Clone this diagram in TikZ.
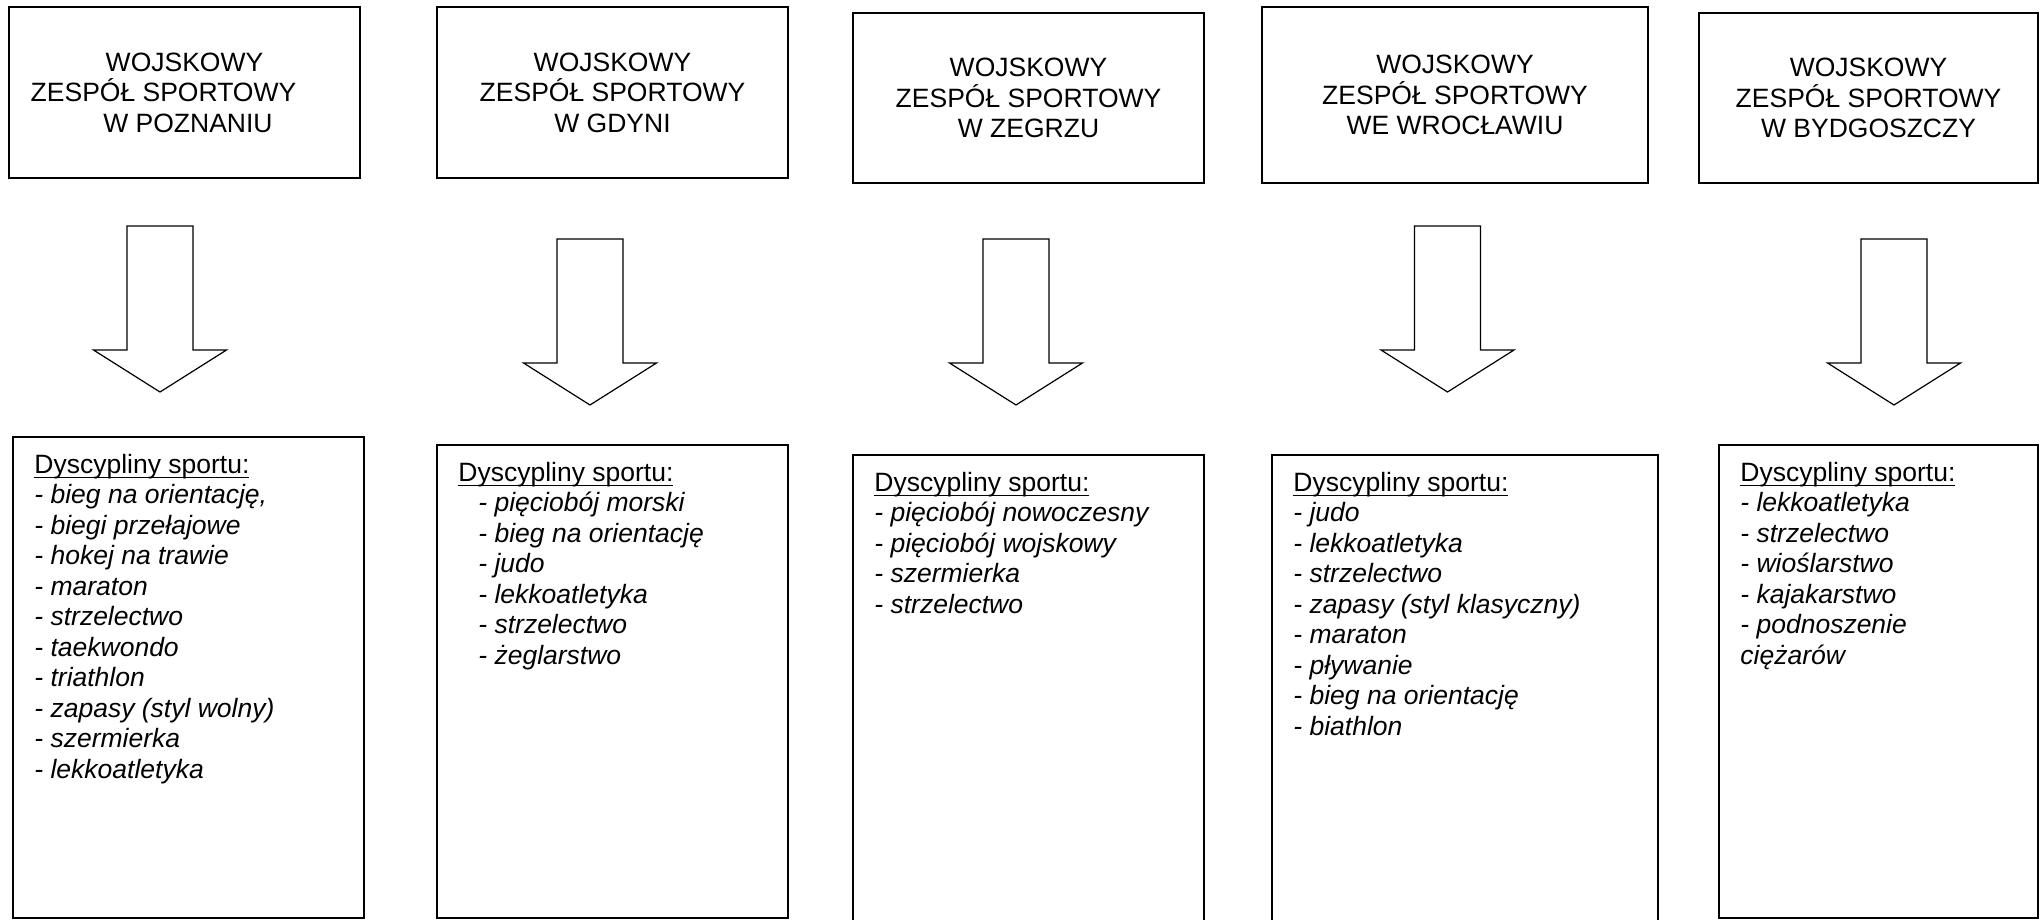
\documentclass[tikz,border=0pt]{standalone}
\usepackage{fontspec}
\setmainfont{Liberation Sans}
\usetikzlibrary{calc}
\newsavebox\ulbox
\newcommand\myul[1]{\sbox\ulbox{#1}\usebox\ulbox\llap{\rule[-2.5pt]{\wd\ulbox}{0.7pt}}}
\begin{document}
\begin{tikzpicture}[x=0.5pt,y=-0.5pt,
  every node/.style={font={\fontsize{13.25pt}{15.25pt}\selectfont}},
  topbox/.style={draw,line width=0.8pt,inner sep=0pt,outer sep=0pt,align=center},
  listbox/.style={draw,line width=0.8pt,inner sep=0pt,outer sep=0pt},
  listtext/.style={anchor=base west,inner sep=0pt},
  arrowline/.style={draw,line width=0.6pt,line join=miter,fill=white},
  blockarrow/.pic={\path[arrowline] (-33,0) -- (33,0) -- (33,124) -- (66.5,124) -- (0,166) -- (-66.5,124) -- (-33,124) -- cycle;}
]
\useasboundingbox (0,0) rectangle (2040,920);

% top boxes
\node[topbox,minimum width=175.5pt,minimum height=85.5pt] (T1) at (184.5,92.5)
  {WOJSKOWY\\\mbox{ZESPÓŁ SPORTOWY\hspace{21pt}}\\\mbox{\hspace{3.5pt}W POZNANIU}};
\node[topbox,minimum width=175.5pt,minimum height=85.5pt] (T2) at (612.5,92.5)
  {WOJSKOWY\\ZESPÓŁ SPORTOWY\\W GDYNI};
\node[topbox,minimum width=175.5pt,minimum height=85pt] (T3) at (1028.5,98)
  {WOJSKOWY\\ZESPÓŁ SPORTOWY\\W ZEGRZU};
\node[topbox,minimum width=193pt,minimum height=88pt] (T4) at (1455,95)
  {WOJSKOWY\\ZESPÓŁ SPORTOWY\\WE WROCŁAWIU};
\node[topbox,minimum width=169.5pt,minimum height=85pt] (T5) at (1868.5,98)
  {WOJSKOWY\\ZESPÓŁ SPORTOWY\\W BYDGOSZCZY};

% block arrows
\coordinate (A1) at (160,226);
\coordinate (A2) at (590,239);
\coordinate (A3) at (1016,239);
\coordinate (A4) at (1447.5,226);
\coordinate (A5) at (1894,239);
\pic at (A1) {blockarrow};
\pic at (A2) {blockarrow};
\pic at (A3) {blockarrow};
\pic at (A4) {blockarrow};
\pic at (A5) {blockarrow};

% list boxes
\node[listbox,minimum width=175.5pt,minimum height=240.5pt] (L1) at (188.5,677.5) {};
\node[listbox,minimum width=175.5pt,minimum height=236.5pt] (L2) at (612.5,681.5) {};
\node[listbox,minimum width=175.5pt,minimum height=233pt] (L3) at (1028.5,688) {};
\node[listbox,minimum width=193pt,minimum height=233pt] (L4) at (1465,688) {};
\node[listbox,minimum width=159.5pt,minimum height=236.5pt] (L5) at (1878.5,681.5) {};

% list texts
\node[listtext] (X1) at ($(L1.north west)+(21,36)$) {\parbox[t]{170pt}{\raggedright
\myul{Dyscypliny sportu:}\\
\textit{- bieg na orientację,}\\
\textit{- biegi przełajowe}\\
\textit{- hokej na trawie}\\
\textit{- maraton}\\
\textit{- strzelectwo}\\
\textit{- taekwondo}\\
\textit{- triathlon}\\
\textit{- zapasy (styl wolny)}\\
\textit{- szermierka}\\
\textit{- lekkoatletyka}}};

\node[listtext] (X2) at ($(L2.north west)+(21,36)$) {\parbox[t]{170pt}{\raggedright
\myul{Dyscypliny sportu:}\\
\hspace*{10pt}\textit{- pięciobój morski}\\
\hspace*{10pt}\textit{- bieg na orientację}\\
\hspace*{10pt}\textit{- judo}\\
\hspace*{10pt}\textit{- lekkoatletyka}\\
\hspace*{10pt}\textit{- strzelectwo}\\
\hspace*{10pt}\textit{- żeglarstwo}}};

\node[listtext] (X3) at ($(L3.north west)+(21,36)$) {\parbox[t]{170pt}{\raggedright
\myul{Dyscypliny sportu:}\\
\textit{- pięciobój nowoczesny}\\
\textit{- pięciobój wojskowy}\\
\textit{- szermierka}\\
\textit{- strzelectwo}}};

\node[listtext] (X4) at ($(L4.north west)+(21,36)$) {\parbox[t]{185pt}{\raggedright
\myul{Dyscypliny sportu:}\\
\textit{- judo}\\
\textit{- lekkoatletyka}\\
\textit{- strzelectwo}\\
\textit{- zapasy (styl klasyczny)}\\
\textit{- maraton}\\
\textit{- pływanie}\\
\textit{- bieg na orientację}\\
\textit{- biathlon}}};

\node[listtext] (X5) at ($(L5.north west)+(21,36)$) {\parbox[t]{150pt}{\raggedright
\myul{Dyscypliny sportu:}\\
\textit{- lekkoatletyka}\\
\textit{- strzelectwo}\\
\textit{- wioślarstwo}\\
\textit{- kajakarstwo}\\
\textit{- podnoszenie}\\
\textit{ciężarów}}};
\end{tikzpicture}
\end{document}
